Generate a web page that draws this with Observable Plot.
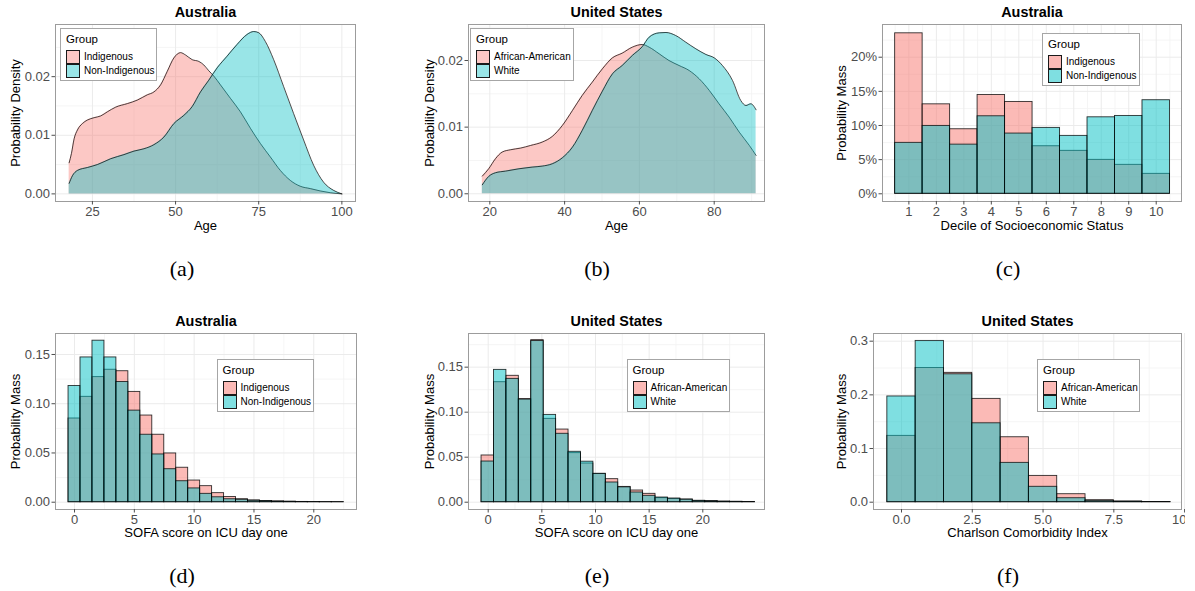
<!DOCTYPE html>
<html><head><meta charset="utf-8">
<script src="https://cdn.jsdelivr.net/npm/d3@7"></script>
<script src="https://cdn.jsdelivr.net/npm/@observablehq/plot@0.6"></script>
<style>
body{margin:0;background:#fff;}
#root{position:relative;width:1195px;height:591px;overflow:hidden;font-family:"Liberation Sans",Arial,Helvetica,sans-serif;background:#fff;}
.panel{position:absolute;overflow:hidden;}
.panel svg{overflow:visible;max-width:none;}
.legend{position:absolute;background:#fff;border:1px solid #a6a6a6;box-sizing:border-box;font-family:"Liberation Sans",Arial,sans-serif;}
.legend .t{position:absolute;left:5px;font-size:11.5px;line-height:11.5px;color:#000;white-space:nowrap;}
.legend .k{position:absolute;left:5px;width:14px;height:14px;box-sizing:border-box;border:1px solid #1a1a1a;}
.legend .l{position:absolute;left:23px;font-size:10px;line-height:10px;color:#000;white-space:nowrap;}
.cap{position:absolute;font-family:"Liberation Serif","DejaVu Serif",serif;font-size:22px;line-height:22px;transform:translate(-50%,-50%);white-space:nowrap;}
</style></head>
<body><div id="root"></div>
<script>
// ---------------- DATA ----------------
const groupsAU = ["Indigenous", "Non-Indigenous"];
const groupsUS = ["African-American", "White"];
const panelTitles = ["Australia", "United States", "Australia", "Australia", "United States", "United States"];
const captions = ["(a)", "(b)", "(c)", "(d)", "(e)", "(f)"];

// (a) Age density, Australia
const ageAUIndig = [18,18.7,19.5,20.5,22,23.5,25.5,27.5,29.5,32,35.5,38.5,41.5,43.5,45.5,47.5,49.5,51.5,53,55,57,58.5,60,61.5,63.5,66.5,69.5,72.5,75.5,78.5,81.5,84.5,87.5,90.5,93.5,96.5,100];
const densAUIndig = [0.0053,0.0069,0.0094,0.0109,0.0120,0.0126,0.0130,0.0133,0.0140,0.0148,0.0154,0.0160,0.0169,0.0174,0.0186,0.0209,0.0232,0.0241,0.0237,0.0229,0.0226,0.0220,0.0210,0.0201,0.0186,0.0163,0.0140,0.0112,0.0086,0.0063,0.0040,0.0023,0.0013,0.0009,0.0005,0.0002,0];
const ageAUNon = [18,19,20.5,23.5,26.5,30.5,34.5,37.5,40.5,43.5,46.5,49.5,52.5,55,57.5,60,62.5,65.5,68.5,71.5,73.5,75,77,79.5,82.5,85.5,88.5,91.5,94.5,97.5,100];
const densAUNon = [0.0018,0.0031,0.0040,0.0045,0.0050,0.0060,0.0067,0.0073,0.0077,0.0084,0.0097,0.0120,0.0134,0.0149,0.0174,0.0194,0.0215,0.0235,0.0255,0.0272,0.0277,0.0275,0.0260,0.0229,0.0183,0.0137,0.0092,0.0049,0.0020,0.0006,0];
const ageTicksA = [25,50,75,100];
const densTicksA = [0,0.01,0.02];

// (b) Age density, United States
const ageUSAA = [18,19.7,21.5,23.3,25.5,28.2,30.9,34,36.7,39.4,42.1,44.7,47.4,50.1,52.8,55.4,58.1,60.8,62.6,65.3,67.9,70.6,73.3,76,78.7,81.3,84,86.7,89.4,91.2];
const densUSAA = [0.00265,0.00375,0.00525,0.00625,0.0066,0.00685,0.00725,0.00775,0.0086,0.01025,0.0125,0.01475,0.01675,0.01875,0.0204,0.0211,0.022,0.0224,0.022,0.021,0.02,0.01925,0.0185,0.01725,0.0155,0.0135,0.0115,0.00925,0.00725,0.00575];
const ageUSWhite = [18,19.7,21.5,24.2,27.8,31.3,34,36.7,39.4,42.1,44.7,47.4,50.1,52.8,55.4,58.1,60.8,62.6,65.3,67.1,69.7,72.4,75.1,77.8,80,82.2,84.9,87.1,88.5,89.8,91.2];
const densUSWhite = [0.00135,0.0026,0.00315,0.0034,0.00375,0.004,0.00415,0.0045,0.0054,0.007,0.0095,0.0125,0.0154,0.018,0.01925,0.02075,0.0221,0.0235,0.02415,0.0242,0.02375,0.02275,0.02175,0.0209,0.0204,0.01925,0.017,0.014,0.01325,0.0135,0.0126];
const ageTicksB = [20,40,60,80];
const densTicksB = [0,0.01,0.02];

// (c) Socioeconomic decile, Australia (percent)
const sesDeciles = [1,2,3,4,5,6,7,8,9,10];
const sesIndig = [23.5,13.1,9.45,14.47,13.45,6.96,6.29,4.97,4.24,2.92];
const sesNonIndig = [7.46,9.94,7.2,11.35,8.82,9.65,8.48,11.2,11.4,13.7];
const sesYTicks = [0,5,10,15,20];

// (d) SOFA, Australia (scores 0..22)
const sofaAUScores = [0,1,2,3,4,5,6,7,8,9,10,11,12,13,14,15,16,17,18,19,20,21,22];
const sofaAUIndig = [0.085,0.107,0.127,0.1345,0.133,0.112,0.088,0.0685,0.0495,0.035,0.022,0.0163,0.0092,0.0053,0.003,0.0018,0.0012,0.0008,0.0005,0.0003,0.0002,0.0001,0.0001];
const sofaAUNon = [0.118,0.147,0.164,0.147,0.122,0.093,0.0685,0.0485,0.0335,0.0213,0.014,0.0085,0.005,0.003,0.0025,0.0015,0.001,0.0006,0.0004,0.0002,0.0001,0.0001,0.00005];
const sofaXTicks = [0,5,10,15,20];
const massTicks = [0,0.05,0.10,0.15];

// (e) SOFA, United States (22 bins)
const sofaUSBinStart = -0.62;
const sofaUSBinWidth = 1.158;
const sofaUSAA = [0.0519,0.1333,0.1404,0.1145,0.180,0.0926,0.0807,0.0545,0.043,0.0315,0.0256,0.017,0.013,0.0093,0.0045,0.0038,0.003,0.0015,0.0012,0.0006,0.0004,0.0003];
const sofaUSWhite = [0.0452,0.147,0.137,0.114,0.179,0.097,0.076,0.056,0.045,0.0315,0.0219,0.0165,0.0108,0.0071,0.0052,0.004,0.0028,0.0015,0.001,0.0006,0.0004,0.0002];

// (f) Charlson index, United States
const cciScores = [0,1,2,3,4,5,6,7,8,9];
const cciAA = [0.1236,0.250,0.241,0.1925,0.121,0.049,0.0149,0.0037,0.0012,0.0004];
const cciWhite = [0.197,0.3005,0.2383,0.147,0.0733,0.0287,0.0074,0.0025,0.001,0.0003];
const cciXTicks = [0,2.5,5,7.5,10];
const cciYTicks = [0,0.1,0.2,0.3];

// ---------------- DRAWING ----------------
const pink = "#F8766D", teal = "#00BFC4";
const FONT = "'Liberation Sans', Arial, Helvetica, sans-serif";
const root = document.getElementById("root");

const zip = (xs, ys) => xs.map((x, i) => ({x, y: ys[i]}));

function densityMarks(a, b) {
  const out = [];
  for (const [data, col] of [[a, pink], [b, teal]]) {
    out.push(Plot.areaY(data, {x: "x", y1: () => 0, y2: "y", fill: col, fillOpacity: 0.4, curve: "monotone-x"}));
    out.push(Plot.line(data, {x: "x", y: "y", stroke: "black", strokeWidth: 0.7, curve: "monotone-x"}));
  }
  return out;
}
function barMarks(a, b) {
  return [[a, pink], [b, teal]].map(([data, col]) =>
    Plot.rect(data, {x1: "x1", x2: "x2", y1: () => 0, y2: "y", fill: col, fillOpacity: 0.5,
      stroke: "black", strokeOpacity: 0.8, strokeWidth: 0.9}));
}
const bins = (centers, vals) => centers.map((c, i) => ({x1: c - 0.5, x2: c + 0.5, y: vals[i]}));

function addPanel(cfg) {
  const mL = 60, mT = 28, mR = 14, mB = 44;
  const fw = cfg.R - cfg.L, fh = cfg.B - cfg.T;
  const W = fw + mL + mR, H = fh + mT + mB;
  const gstyle = (w, c) => ({stroke: c, strokeOpacity: 1, strokeWidth: w});
  const svg = Plot.plot({
    width: W, height: H, marginLeft: mL, marginTop: mT, marginRight: mR, marginBottom: mB,
    style: {fontFamily: FONT, background: "transparent", overflow: "visible"},
    x: {type: "linear", domain: cfg.xDomain},
    y: {type: "linear", domain: cfg.yDomain},
    marks: [
      Plot.gridX(cfg.xMinor, gstyle(0.8, "#F2F2F2")),
      Plot.gridY(cfg.yMinor, gstyle(0.8, "#F2F2F2")),
      Plot.gridX(cfg.xTicks, gstyle(1, "#EBEBEB")),
      Plot.gridY(cfg.yTicks, gstyle(1, "#EBEBEB")),
      ...cfg.marks,
      Plot.frame({stroke: "#9c9c9c", strokeWidth: 1}),
      Plot.axisX(cfg.xTicks, {tickFormat: cfg.xFmt, tickSize: 3.5, tickPadding: 2, fontSize: 13, color: "#4D4D4D", label: null}),
      Plot.axisY(cfg.yTicks, {tickFormat: cfg.yFmt, tickSize: 3.5, tickPadding: 2, fontSize: 13, color: "#4D4D4D", label: null}),
      Plot.text([cfg.title], {text: d => d, frameAnchor: "top", lineAnchor: "middle", dy: -12.5, fontSize: 14.4, fontWeight: "bold", fill: "black"}),
      Plot.text([cfg.xLabel], {text: d => d, frameAnchor: "bottom", lineAnchor: "middle", dy: cfg.xLabDy, fontSize: 13, fill: "black", textAnchor: "middle"}),
      Plot.text([cfg.yLabel], {text: d => d, frameAnchor: "left", lineAnchor: "middle", dx: cfg.yLabDx, rotate: -90, fontSize: 13, fill: "black", textAnchor: "middle"})
    ]
  });
  const div = document.createElement("div");
  div.className = "panel";
  div.style.left = (cfg.L - mL) + "px";
  div.style.top = (cfg.T - mT) + "px";
  div.style.width = (cfg.clipRight ? cfg.clipRight - (cfg.L - mL) : W) + "px";
  div.style.height = H + "px";
  div.append(svg);
  root.append(div);
}

function addLegend(x, y, w, labels, alpha) {
  const d = document.createElement("div");
  d.className = "legend";
  Object.assign(d.style, {left: x + "px", top: y + "px", width: w + "px", height: "53px"});
  const t = document.createElement("div");
  t.className = "t"; t.textContent = "Group"; t.style.top = "5px";
  d.append(t);
  [[pink, 21], [teal, 35]].forEach(([c, ty], i) => {
    const k = document.createElement("div");
    k.className = "k"; k.style.top = ty + "px";
    const rgb = d3.rgb(c);
    k.style.background = `rgba(${rgb.r},${rgb.g},${rgb.b},${alpha})`;
    d.append(k);
    const l = document.createElement("div");
    l.className = "l"; l.textContent = labels[i]; l.style.top = (ty + 2) + "px";
    d.append(l);
  });
  root.append(d);
}

function addCaption(text, cx, cy) {
  const c = document.createElement("div");
  c.className = "cap"; c.textContent = text;
  c.style.left = cx + "px"; c.style.top = cy + "px";
  root.append(c);
}

const f2 = d3.format(".2f"), f1 = d3.format(".1f");

// (a)
addPanel({L: 55, R: 355, T: 24, B: 201, xDomain: [13.9, 104.1], yDomain: [-0.0013, 0.0289],
  xTicks: ageTicksA, xMinor: [37.5, 62.5, 87.5], yTicks: densTicksA, yMinor: [0.005, 0.015, 0.025],
  xFmt: d3.format("d"), yFmt: f2, title: panelTitles[0], xLabel: "Age", yLabel: "Probability Density", yLabDx: -40, xLabDy: 24.5,
  marks: densityMarks(zip(ageAUIndig, densAUIndig), zip(ageAUNon, densAUNon))});
// (b)
addPanel({L: 468, R: 764, T: 24, B: 201, xDomain: [14.3, 93.45], yDomain: [-0.00116, 0.0254],
  xTicks: ageTicksB, xMinor: [30, 50, 70, 90], yTicks: densTicksB, yMinor: [0.005, 0.015, 0.025],
  xFmt: d3.format("d"), yFmt: f2, title: panelTitles[1], xLabel: "Age", yLabel: "Probability Density", yLabDx: -39, xLabDy: 24.5,
  marks: densityMarks(zip(ageUSAA, densUSAA), zip(ageUSWhite, densUSWhite))});
// (c)
addPanel({L: 882, R: 1181, T: 24, B: 201, xDomain: [0.04, 10.92], yDomain: [-1.13, 24.79],
  xTicks: sesDeciles, xMinor: [0.5,1.5,2.5,3.5,4.5,5.5,6.5,7.5,8.5,9.5,10.5], yTicks: sesYTicks, yMinor: [2.5, 7.5, 12.5, 17.5, 22.5],
  xFmt: d3.format("d"), yFmt: d => d + "%", title: panelTitles[2], xLabel: "Decile of Socioeconomic Status", yLabel: "Probability Mass", yLabDx: -40.5, xLabDy: 24.5,
  marks: barMarks(bins(sesDeciles, sesIndig), bins(sesDeciles, sesNonIndig))});
// (d)
addPanel({L: 55, R: 356, T: 333, B: 509, xDomain: [-1.59, 23.57], yDomain: [-0.0074, 0.1713],
  xTicks: sofaXTicks, xMinor: [2.5, 7.5, 12.5, 17.5, 22.5], yTicks: massTicks, yMinor: [0.025, 0.075, 0.125],
  xFmt: d3.format("d"), yFmt: f2, title: panelTitles[3], xLabel: "SOFA score on ICU day one", yLabel: "Probability Mass", yLabDx: -40, xLabDy: 23.5,
  marks: barMarks(bins(sofaAUScores, sofaAUIndig), bins(sofaAUScores, sofaAUNon))});
// (e)
const usBins = vals => vals.map((v, i) => ({x1: sofaUSBinStart + i * sofaUSBinWidth, x2: sofaUSBinStart + (i + 1) * sofaUSBinWidth, y: v}));
addPanel({L: 468, R: 764, T: 333, B: 509, xDomain: [-1.836, 25.75], yDomain: [-0.0081, 0.1874],
  xTicks: sofaXTicks, xMinor: [2.5, 7.5, 12.5, 17.5, 22.5], yTicks: massTicks, yMinor: [0.025, 0.075, 0.125, 0.175],
  xFmt: d3.format("d"), yFmt: f2, title: panelTitles[4], xLabel: "SOFA score on ICU day one", yLabel: "Probability Mass", yLabDx: -39, xLabDy: 23.5,
  marks: barMarks(usBins(sofaUSAA), usBins(sofaUSWhite))});
// (f)
addPanel({L: 873, R: 1181, T: 333, B: 509, xDomain: [-0.989, 9.89], yDomain: [-0.0136, 0.3143],
  xTicks: cciXTicks, xMinor: [1.25, 3.75, 6.25, 8.75], yTicks: cciYTicks, yMinor: [0.05, 0.15, 0.25],
  xFmt: f1, yFmt: f1, title: panelTitles[5], xLabel: "Charlson Comorbidity Index", yLabel: "Probability Mass", yLabDx: -32, xLabDy: 23.5,
  clipRight: 1185,
  marks: barMarks(bins(cciScores, cciAA), bins(cciScores, cciWhite))});

// legends
addLegend(60, 28, 97, groupsAU, 0.4);
addLegend(470, 28, 103.5, groupsUS, 0.4);
addLegend(1042, 32.5, 98, groupsAU, 0.5);
addLegend(216.5, 358.5, 97.5, groupsAU, 0.5);
addLegend(626.5, 358.5, 103.5, groupsUS, 0.5);
addLegend(1037, 358.5, 103, groupsUS, 0.5);

// captions
addCaption(captions[0], 182, 269);
addCaption(captions[1], 597, 269);
addCaption(captions[2], 1008, 269);
addCaption(captions[3], 182, 576);
addCaption(captions[4], 597, 576);
addCaption(captions[5], 1008, 576);
</script>
</body></html>
